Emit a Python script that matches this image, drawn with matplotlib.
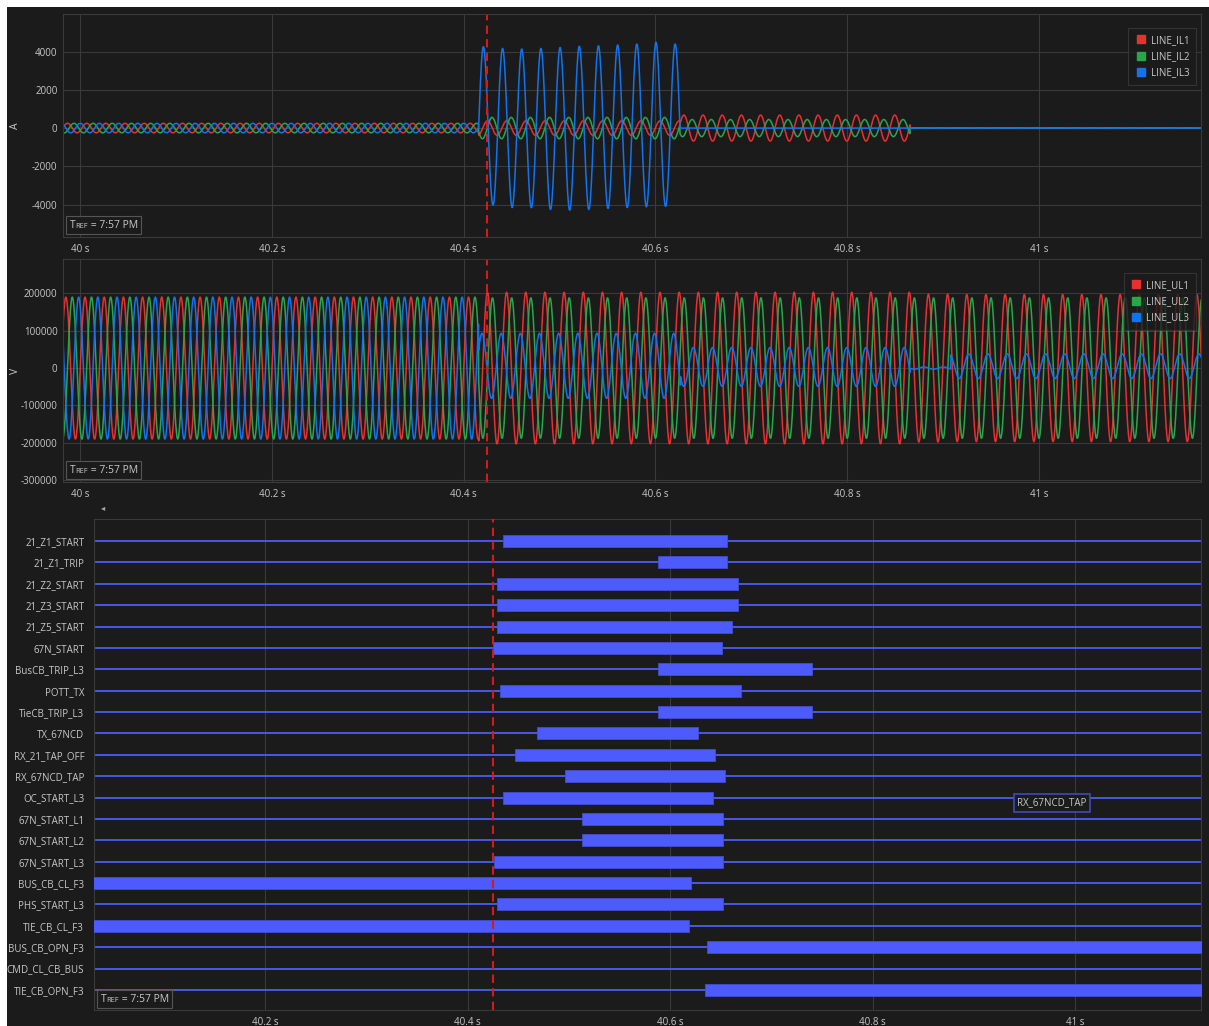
import numpy as np
import matplotlib.pyplot as plt
from matplotlib.lines import Line2D
from matplotlib.patches import Rectangle
from matplotlib.offsetbox import TextArea, HPacker, AnchoredOffsetbox

plt.rcParams['font.family'] = ['Open Sans', 'DejaVu Sans']

BG = '#1b1b1b'
GRID = '#3a3a3a'
TXT = '#c8c8c8'
RED = '#e8302f'
GREEN = '#2aa64a'
BLUE = '#1273ee'
SIG_LINE = '#4858e6'
SIG_BAR = '#4d5bfd'

FREQ = 50.0
T_MARK = 40.4245   # red dashed cursor

# ---- analog channels: segments (start times, peak amps,
#      time of a peak inside the 20 ms cycle, dc offset)
cur_seg_t = [39.98, 40.4155, 40.6255, 40.8655, 41.17]
il1_amp = [250, 380, 680, 10]
il1_peak = [0.0067, 0.0048, 0.0096, 0.0096]
il2_amp = [250, 560, 450, 10]
il2_peak = [0.0134, 0.0095, 0.0182, 0.0182]
il3_amp = [250, 0, 0, 0]
il3_peak = [0.0000, 0.0, 0.0, 0.0]
# IL3 during the fault, cycle by cycle
il3_fault_first_peak = 40.4205
il3_fault_peaks = [4260, 4170, 4140, 4170, 4220, 4280, 4310, 4350, 4400, 4490, 4400]
il3_fault_troughs = [4030, 4160, 4170, 4260, 4300, 4260, 4210, 4160, 4120, 4100]

volt_seg_t = [39.98, 40.4155, 40.626, 40.8655, 40.908, 41.17]
ul1_amp = [190000, 203000, 203000, 198000, 197000]
ul1_peak = [0.0050, 0.0047, 0.0047, 0.0047, 0.0047]
ul2_amp = [190000, 188000, 188000, 188000, 188000]
ul2_peak = [0.0117, 0.0100, 0.0100, 0.0100, 0.0100]
ul3_amp = [190000, 87000, 52000, 3000, 33000]
ul3_peak = [0.0183, 0.0190, 0.0195, 0.0, 0.0068]
ul3_off = [0, 6000, 3000, 0, 5000]

# ---- binary channels
signals = ['21_Z1_START', '21_Z1_TRIP', '21_Z2_START', '21_Z3_START', '21_Z5_START',
           '67N_START', 'BusCB_TRIP_L3', 'POTT_TX', 'TieCB_TRIP_L3', 'TX_67NCD',
           'RX_21_TAP_OFF', 'RX_67NCD_TAP', 'OC_START_L3', '67N_START_L1', '67N_START_L2',
           '67N_START_L3', 'BUS_CB_CL_F3', 'PHS_START_L3', 'TIE_CB_CL_F3', 'BUS_CB_OPN_F3',
           'CMD_CL_CB_BUS', 'TIE_CB_OPN_F3']
sig_on = [40.435, 40.588, 40.429, 40.429, 40.429, 40.425, 40.588, 40.432, 40.588, 40.468,
          40.447, 40.496, 40.435, 40.513, 40.513, 40.426, 40.0, 40.429, 40.0, 40.636,
          None, 40.634]
sig_off = [40.656, 40.656, 40.667, 40.667, 40.661, 40.651, 40.740, 40.670, 40.740, 40.627,
           40.644, 40.654, 40.642, 40.652, 40.652, 40.652, 40.620, 40.652, 40.618, 41.2,
           None, 41.2]

x_ticks_top = [40.0, 40.2, 40.4, 40.6, 40.8, 41.0]
x_ticks_bot = [40.2, 40.4, 40.6, 40.8, 41.0]
i_ticks = [-4000, -2000, 0, 2000, 4000]
v_ticks = [-300000, -200000, -100000, 0, 100000, 200000]


def build(t, seg_t, amps, peaks, offs=None):
    y = np.zeros_like(t)
    for k in range(len(amps)):
        m = (t >= seg_t[k]) & (t < seg_t[k + 1])
        y[m] = amps[k] * np.cos(2 * np.pi * FREQ * (t[m] - peaks[k]))
        if offs is not None:
            y[m] += offs[k]
    return y


t = np.arange(39.98, 41.17, 1 / 5000.0)
il1 = build(t, cur_seg_t, il1_amp, il1_peak)
il2 = build(t, cur_seg_t, il2_amp, il2_peak)
il3 = build(t, cur_seg_t, il3_amp, il3_peak)
m = (t >= cur_seg_t[1]) & (t < cur_seg_t[2])
n = (t[m] - il3_fault_first_peak) * FREQ
c = np.cos(2 * np.pi * n)
pk = np.array(il3_fault_peaks)[np.clip(np.round(n).astype(int), 0, len(il3_fault_peaks) - 1)]
tr = np.array(il3_fault_troughs)[np.clip(np.floor(n).astype(int), 0, len(il3_fault_troughs) - 1)]
il3[m] = np.where(c >= 0, pk, tr) * c

ul1 = build(t, volt_seg_t, ul1_amp, ul1_peak)
ul2 = build(t, volt_seg_t, ul2_amp, ul2_peak)
ul3 = build(t, volt_seg_t, ul3_amp, ul3_peak, ul3_off)

W, H = 1209, 1026
fig = plt.figure(figsize=(W / 100, H / 100), dpi=100, facecolor='white')
fig.patches.append(Rectangle((7 / W, 0), 1, 1 - 7 / H, transform=fig.transFigure,
                             facecolor=BG, edgecolor='none', zorder=-10))


def px_axes(l, t_, r, b):
    return fig.add_axes([l / W, 1 - b / H, (r - l) / W, (b - t_) / H])


def style(ax):
    ax.set_facecolor(BG)
    for s in ax.spines.values():
        s.set_color(GRID)
        s.set_linewidth(0.8)
    ax.tick_params(colors=TXT, labelsize=7, length=0)
    ax.grid(True, color=GRID, lw=0.8)
    ax.set_axisbelow(True)


def tref(ax, dx, dy):
    parts = HPacker(children=[TextArea('T', textprops=dict(color=TXT, fontsize=7.5)),
                              TextArea('REF', textprops=dict(color=TXT, fontsize=5.3)),
                              TextArea(' = 7:57 PM', textprops=dict(color=TXT, fontsize=7.5))],
                    align='baseline', pad=0, sep=0)
    box = AnchoredOffsetbox(loc='lower left', child=parts, pad=0.25, borderpad=0,
                            bbox_to_anchor=(dx, dy), bbox_transform=ax.transAxes, frameon=True)
    box.patch.set_facecolor(BG)
    box.patch.set_edgecolor('#555555')
    box.patch.set_linewidth(0.8)
    ax.add_artist(box)


def legend(ax, names, colors, anchor):
    handles = [Line2D([], [], marker='s', ls='none', color=col, markersize=6) for col in colors]
    lg = ax.legend(handles, names, loc='upper right', bbox_to_anchor=anchor, borderaxespad=0,
                   fontsize=7, labelcolor=TXT, frameon=True, fancybox=False,
                   handletextpad=0.4, handlelength=1.2, labelspacing=0.55, borderpad=0.7)
    lg.get_frame().set_facecolor(BG)
    lg.get_frame().set_edgecolor(GRID)
    lg.get_frame().set_linewidth(0.8)


def sec_fmt(v):
    return '%g s' % v


def unit_label(ax, s):
    ax.text((15 - 63) / 1138, 0.5, s, transform=ax.transAxes, rotation=90,
            color=TXT, fontsize=7.5, ha='center', va='center')


# ---- current panel
ax1 = px_axes(63, 14, 1201, 237)
style(ax1)
ax1.plot(t, il1, color=RED, lw=1.1)
ax1.plot(t, il2, color=GREEN, lw=1.1)
ax1.plot(t, il3, color=BLUE, lw=1.1)
ax1.axvline(T_MARK, color='#d41b1b', lw=1.5, ls=(0, (4, 2.5)))
ax1.set_xlim(39.982, 41.169)
ax1.set_ylim(-5700, 5970)
ax1.set_xticks(x_ticks_top, [sec_fmt(v) for v in x_ticks_top])
ax1.set_yticks(i_ticks, [str(v) for v in i_ticks])
ax1.tick_params(axis='x', pad=5)
ax1.tick_params(axis='y', pad=4)
unit_label(ax1, 'A')
legend(ax1, ['LINE_IL1', 'LINE_IL2', 'LINE_IL3'], [RED, GREEN, BLUE],
       ((1196 - 63) / 1138, 1 - (28 - 14) / 223))
tref(ax1, 3 / 1138, 3 / 223)

# ---- voltage panel
ax2 = px_axes(63, 259, 1201, 482)
style(ax2)
ax2.plot(t, ul1, color=RED, lw=1.1)
ax2.plot(t, ul2, color=GREEN, lw=1.1)
ax2.plot(t, ul3, color=BLUE, lw=1.1)
ax2.axvline(T_MARK, color='#d41b1b', lw=1.5, ls=(0, (4, 2.5)))
ax2.set_xlim(39.982, 41.169)
ax2.set_ylim(-305000, 292000)
ax2.set_xticks(x_ticks_top, [sec_fmt(v) for v in x_ticks_top])
ax2.set_yticks(v_ticks, [str(v) for v in v_ticks])
ax2.tick_params(axis='x', pad=5)
ax2.tick_params(axis='y', pad=4)
unit_label(ax2, 'V')
legend(ax2, ['LINE_UL1', 'LINE_UL2', 'LINE_UL3'], [RED, GREEN, BLUE],
       ((1196 - 63) / 1138, 1 - (273 - 259) / 223))
tref(ax2, 3 / 1138, 3 / 223)

fig.text(103 / W, 1 - 508 / H, '\u25c2', color='#aaaaaa', fontsize=6,
         family='DejaVu Sans', ha='center', va='center')

# ---- digital panel
ax3 = px_axes(94, 519, 1201, 1010)
style(ax3)
ax3.grid(True, axis='x', color=GRID, lw=0.8)
ax3.grid(False, axis='y')
for i, name in enumerate(signals):
    ax3.axhline(i, color=SIG_LINE, lw=1.4, zorder=2)
    if sig_on[i] is not None:
        ax3.broken_barh([(sig_on[i], sig_off[i] - sig_on[i])], (i - 0.28, 0.56),
                        facecolor=SIG_BAR, edgecolor='#3f4ed0', lw=0.6, zorder=3)
ax3.axvline(T_MARK, color='#d41b1b', lw=1.5, ls=(0, (4, 2.5)), zorder=4)
ax3.set_xlim(40.031, 41.124)
ax3.set_ylim(len(signals) - 1 + 0.94, -1.03)
ax3.set_yticks(range(len(signals)), signals)
ax3.set_xticks(x_ticks_bot, [sec_fmt(v) for v in x_ticks_bot])
ax3.tick_params(axis='x', pad=5)
ax3.tick_params(axis='y', pad=7)
ax3.spines['bottom'].set_linestyle((0, (2, 1)))
ax3.text((1052 - 94) / 1107, 1 - (803 - 519) / 491, 'RX_67NCD_TAP', transform=ax3.transAxes,
         color=TXT, fontsize=7, ha='center', va='center', zorder=6,
         bbox=dict(boxstyle='square,pad=0.35', facecolor=BG, edgecolor='#3f4ab8', lw=1.2))
tref(ax3, 3 / 1107, 2 / 491)

fig.savefig('out.png', dpi=100, facecolor=fig.get_facecolor())
